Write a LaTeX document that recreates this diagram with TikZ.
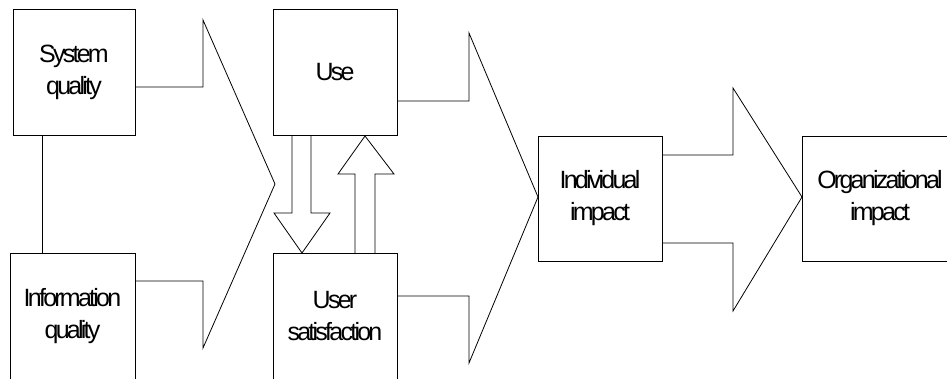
\documentclass[tikz,border=0pt]{standalone}
\usepackage{fontspec}
\setmainfont{Liberation Sans}[LetterSpace=-11]
\begin{document}
\begin{tikzpicture}[x=1pt,y=-1pt,line width=0.8pt,
  block/.style={draw,rectangle,minimum height=126pt,inner sep=0pt,align=center,
    font=\fontsize{25}{32}\selectfont},
  label/.style={align=center,inner sep=0pt,font=\fontsize{25}{32}\selectfont},
  bigarrow/.style={draw,line join=miter}]
\useasboundingbox (0,0) rectangle (947,378);
\clip (0,0) rectangle (947,378);

% success factor boxes
\node[block,minimum width=122pt] (sq) at (74,72) {System\\quality};
\node[block,minimum width=125pt] (iq) at (72.5,316) {Information\\quality};
\node[block,minimum width=124pt] (use) at (335,72) {Use};
\node[block,minimum width=124pt] (us) at (335,316) {User\\satisfaction};
\node[block,minimum width=124pt,minimum height=125pt] (ii) at (600,198.5) {Individual\\impact};
\node[draw,rectangle,minimum width=158pt,minimum height=125pt] (oi) at (881,198.5) {};
\node[label] (oit) at (880,198.5) {Organizational\\impact};

% link between the two quality boxes
\draw ([xshift=-32pt]sq.south) -- ([xshift=-32pt]sq.south |- iq.north);

% block arrow: qualities -> use / satisfaction
\draw[bigarrow] (135,87) -- (203,87) -- (203,20) -- (275,184) -- (203,348) -- (203,281) -- (135,281);
% block arrow: use / satisfaction -> individual impact
\draw[bigarrow] (397,101) -- (469,101) -- (469,33) -- (538,197) -- (469,363) -- (469,296) -- (397,296);
% block arrow: individual impact -> organizational impact
\draw[bigarrow] (662,155) -- (733,155) -- (733,88) -- (802,197) -- (733,311) -- (733,243) -- (662,243);

% use -> user satisfaction
\draw[bigarrow] (292,135) -- (292,213) -- (274,213) -- (302,253) -- (330,213) -- (311,213) -- (311,135);
% user satisfaction -> use
\draw[bigarrow] (355,253) -- (355,174) -- (338,174) -- (365,136) -- (394,174) -- (375,174) -- (375,253);
\end{tikzpicture}
\end{document}
